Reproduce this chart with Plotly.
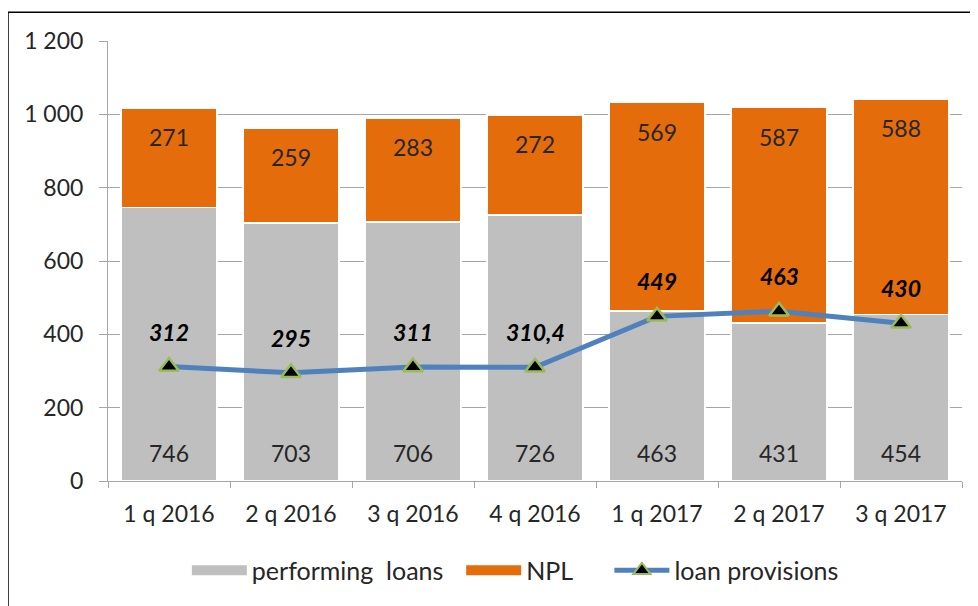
import plotly.graph_objects as go

categories = ["1 q 2016", "2 q 2016", "3 q 2016", "4 q 2016", "1 q 2017", "2 q 2017", "3 q 2017"]
performing = [746, 703, 706, 726, 463, 431, 454]
npl = [271, 259, 283, 272, 569, 587, 588]
provisions = [312, 295, 311, 310.4, 449, 463, 430]
provision_labels = ["312", "295", "311", "310,4", "449", "463", "430"]
y_ticks = [0, 200, 400, 600, 800, 1000, 1200]
y_tick_labels = ["0", "200", "400", "600", "800", "1 000", "1 200"]
series_names = ["performing  loans", "NPL", "loan provisions"]

FONT = "Lato"
GRAY = "#BFBFBF"
ORANGE = "#E46C0A"
BLUE = "#4F81BD"
GREEN = "#9BBB59"
TXT = "#262626"
NB = "\u00a0"

# figure is placed 8px from the page corner by the default body margin
W, H = 970, 598
ML, MT, MR, MB = 100, 33, 16, 123
PW, PH = W - ML - MR, H - MT - MB

fig = go.Figure()
fig.add_trace(go.Bar(
    x=categories, y=performing, name=series_names[0], showlegend=False,
    marker=dict(color=GRAY, line=dict(color="white", width=1.5)),
))
fig.add_trace(go.Bar(
    x=categories, y=npl, name=series_names[1], showlegend=False,
    marker=dict(color=ORANGE, line=dict(color="white", width=1.5)),
))
fig.add_trace(go.Scatter(
    x=categories, y=provisions, name=series_names[2], mode="lines+markers", showlegend=False,
    line=dict(color=BLUE, width=5),
    marker=dict(symbol="triangle-up", size=17, color="black", line=dict(color=GREEN, width=2.5)),
))
# legend entries (Excel-style wide swatches)
fig.add_trace(go.Scatter(x=[None], y=[None], mode="lines", name=series_names[0] + NB * 2,
                         line=dict(color=GRAY, width=13)))
fig.add_trace(go.Scatter(x=[None], y=[None], mode="lines", name=series_names[1] + NB * 5,
                         line=dict(color=ORANGE, width=13)))
fig.add_trace(go.Scatter(x=[None], y=[None], mode="lines+markers", name=series_names[2],
                         line=dict(color=BLUE, width=5),
                         marker=dict(symbol="triangle-up", size=15, color="black",
                                     line=dict(color=GREEN, width=2))))

annotations = []
for c, p, n in zip(categories, performing, npl):
    annotations.append(dict(x=c, y=0, text=str(p), showarrow=False, yshift=28,
                            font=dict(family=FONT, size=23, color=TXT)))
    annotations.append(dict(x=c, y=p + n, text=str(n), showarrow=False, yshift=-29,
                            font=dict(family=FONT, size=23, color=TXT)))
for c, v, t in zip(categories, provisions, provision_labels):
    annotations.append(dict(x=c, y=v, text="<b><i>" + t + "</i></b>", showarrow=False, yshift=35,
                            font=dict(family=FONT, size=23, color="black")))

fig.update_layout(
    barmode="stack",
    bargap=0.21,
    width=W, height=H,
    margin=dict(l=ML, r=MR, t=MT, b=MB),
    paper_bgcolor="white", plot_bgcolor="white",
    font=dict(family=FONT, size=22, color=TXT),
    legend=dict(orientation="h", x=0.477, xanchor="center", y=-90 / PH, yanchor="middle",
                font=dict(size=25), traceorder="normal", itemwidth=55, tracegroupgap=0),
    annotations=annotations,
    shapes=[
        dict(type="line", xref="paper", yref="paper", x0=-ML / PW, x1=(W - ML + 10) / PW,
             y0=(PH + MT - 4) / PH, y1=(PH + MT - 4) / PH, line=dict(color="black", width=1.5)),
        dict(type="line", xref="paper", yref="paper", x0=-ML / PW, x1=-ML / PW,
             y0=(PH + MT - 4) / PH, y1=-(MB + 10) / PH, line=dict(color="black", width=1.5)),
    ],
)
fig.update_xaxes(
    showline=True, linecolor="#A6A6A6", linewidth=1,
    ticks="outside", tickson="boundaries", ticklen=6, tickcolor="#A6A6A6",
    showgrid=False, tickfont=dict(size=23), ticklabelstandoff=12,
)
fig.update_yaxes(
    range=[0, 1200], tickvals=y_ticks, ticktext=y_tick_labels,
    showline=True, linecolor="#A6A6A6", linewidth=1,
    ticks="outside", ticklen=8, tickcolor="#A6A6A6",
    showgrid=True, gridcolor="#A6A6A6", gridwidth=1,
    zeroline=False, tickfont=dict(size=23), ticklabelstandoff=11,
)

fig.write_html("out.html")
